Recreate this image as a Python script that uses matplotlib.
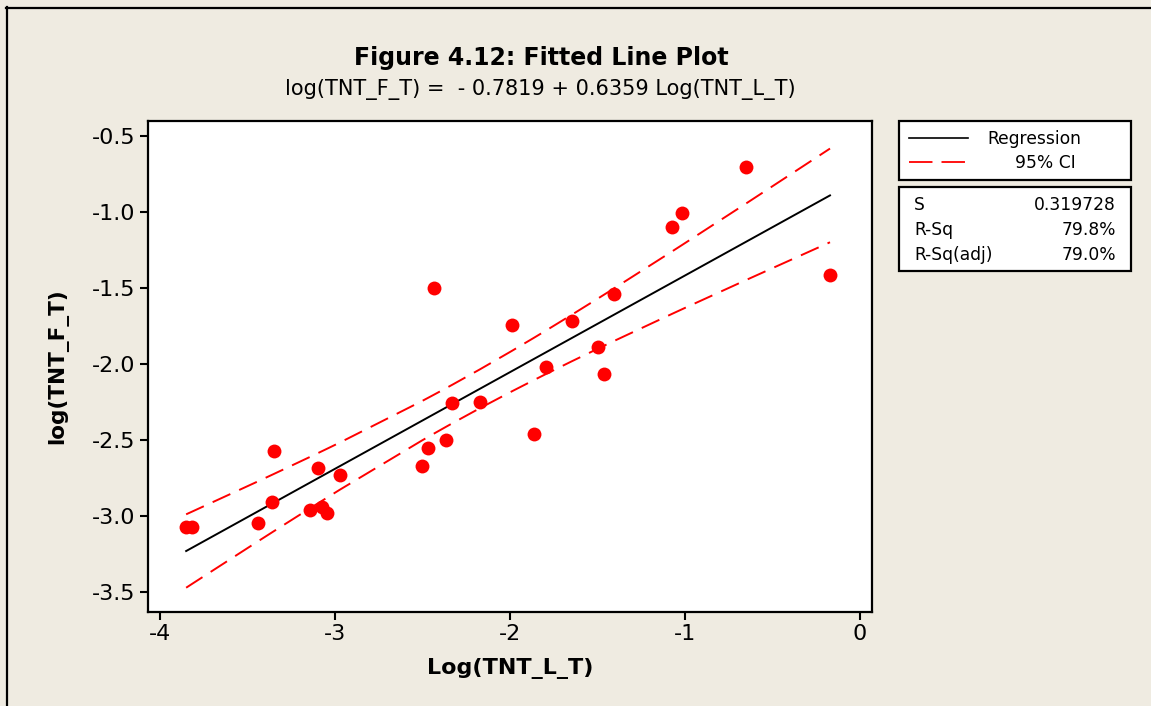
import numpy as np
import matplotlib
matplotlib.use("Agg")
import matplotlib.pyplot as plt
from matplotlib.patches import Rectangle
from matplotlib.lines import Line2D

# ---- data ----
log_tnt_l = [-3.851, -3.817, -3.442, -3.349, -3.360, -3.095, -2.971, -3.143, -3.076,
             -3.048, -2.503, -2.467, -2.366, -2.330, -2.171, -1.861, -2.434, -1.989,
             -1.794, -1.647, -1.499, -1.463, -1.406, -1.074, -1.017, -0.651, -0.171]
log_tnt_f = [-3.072, -3.072, -3.044, -2.572, -2.910, -2.682, -2.730, -2.961, -2.939,
             -2.982, -2.671, -2.551, -2.500, -2.259, -2.248, -2.463, -1.502, -1.741,
             -2.018, -1.717, -1.886, -2.068, -1.537, -1.101, -1.007, -0.704, -1.416]
intercept = -0.7819
slope = 0.6359
s_value = 0.319728
r_sq = 79.8
r_sq_adj = 79.0
t_crit = 2.060

x_ticks = [-4, -3, -2, -1, 0]
y_ticks = [-3.5, -3.0, -2.5, -2.0, -1.5, -1.0, -0.5]

W, H = 1151, 706
BG = "#EFEBE1"

fig = plt.figure(figsize=(W / 100, H / 100), dpi=100, facecolor=BG)


def fx(px):
    return px / W


def fy(py):
    return 1 - py / H


# outer border
fig.add_artist(Line2D([fx(6), fx(1151)], [fy(7.5), fy(7.5)], color="black", lw=1.6))
fig.add_artist(Line2D([fx(6.5), fx(6.5)], [fy(7), fy(706)], color="black", lw=1.6))

ax = fig.add_axes([fx(148), fy(612), fx(872) - fx(148), fy(121) - fy(612)])
ax.set_facecolor("white")

x = np.array(log_tnt_l)
y = np.array(log_tnt_f)
order = np.argsort(x)
xs = x[order]
fit = intercept + slope * xs
n = len(x)
sxx = np.sum((x - x.mean()) ** 2)
half = t_crit * s_value * np.sqrt(1 / n + (xs - x.mean()) ** 2 / sxx)

ax.scatter(x, y, s=100, color="#FF0000", zorder=3, linewidths=0)
ax.plot(xs, fit, color="black", lw=1.4, zorder=2)
ax.plot(xs, fit + half, color="#FF0000", lw=1.4, dashes=(10, 5), zorder=2)
ax.plot(xs, fit - half, color="#FF0000", lw=1.4, dashes=(10, 5), zorder=2)

ax.set_xlim(-4.069, 0.069)
ax.set_ylim(-3.632, -0.401)
ax.set_xticks(x_ticks)
ax.set_xticklabels([str(v) for v in x_ticks])
ax.set_yticks(y_ticks)
ax.set_yticklabels([f"{v:.1f}" for v in y_ticks])
ax.tick_params(direction="out", length=6, width=1.5, labelsize=16, pad=3, colors="black")
for sp in ax.spines.values():
    sp.set_linewidth(1.6)

ax.set_xlabel("Log(TNT_L_T)", fontsize=16, fontweight="bold", labelpad=10)
ax.set_ylabel("log(TNT_F_T)", fontsize=15.5, fontweight="bold", labelpad=17)

fig.text(fx(541), fy(58), "Figure 4.12: Fitted Line Plot", ha="center", va="center",
         fontsize=17, fontweight="bold")
fig.text(fx(540), fy(89), "log(TNT_F_T) =  - 0.7819 + 0.6359 Log(TNT_L_T)", ha="center",
         va="center", fontsize=15)

# legend box
fig.add_artist(Rectangle((fx(899), fy(180)), fx(1131) - fx(899), fy(121) - fy(180),
                         facecolor="white", edgecolor="black", lw=1.6))
fig.add_artist(Line2D([fx(909), fx(968)], [fy(138), fy(138)], color="black", lw=1.2))
fig.add_artist(Line2D([fx(909), fx(968)], [fy(162), fy(162)], color="#FF0000", lw=1.3,
                      dashes=(13, 5)))
fig.text(fx(987), fy(139), "Regression", ha="left", va="center", fontsize=12.3)
fig.text(fx(1015), fy(163), "95% CI", ha="left", va="center", fontsize=12.3)

# stats box
fig.add_artist(Rectangle((fx(899), fy(271)), fx(1131) - fx(899), fy(187) - fy(271),
                         facecolor="white", edgecolor="black", lw=1.6))
rows = [("S", f"{s_value:.6f}"), ("R-Sq", f"{r_sq:.1f}%"), ("R-Sq(adj)", f"{r_sq_adj:.1f}%")]
for i, (lab, val) in enumerate(rows):
    yy = 205 + i * 25
    fig.text(fx(914), fy(yy), lab, ha="left", va="center", fontsize=12.3)
    fig.text(fx(1116), fy(yy), val, ha="right", va="center", fontsize=12.3)

fig.savefig("out.png", dpi=100, facecolor=BG)
